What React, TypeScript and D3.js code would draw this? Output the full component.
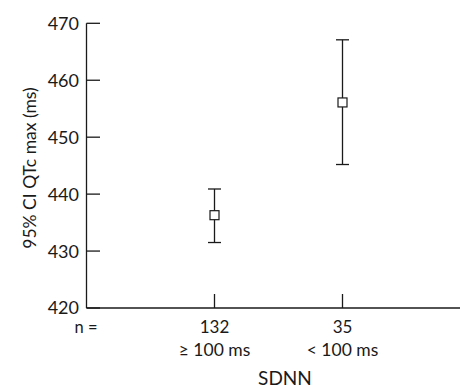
import * as d3 from "d3";

const groups = ["≥ 100 ms", "< 100 ms"];
const counts = [132, 35];
const means = [436.3, 456.1];
const lower = [431.5, 445.2];
const upper = [440.9, 467.1];
const yTicks = [420, 430, 440, 450, 460, 470];

const font = "Lato, 'Open Sans', sans-serif";
const ink = "#1a1a1a";

export default function App() {
  const width = 460;
  const height = 388;
  const x = d3.scaleLinear().domain([0, 3]).range([86.5, 470.5]);
  const y = d3.scaleLinear().domain([420, 470]).range([308, 23.3]);
  const axisX = x(0);
  const baseY = y(420);

  return (
    <svg width={width} height={height} style={{ position: "absolute", left: 0, top: 0, background: "#fff" }}>
      {/* y axis */}
      <line x1={axisX} x2={axisX} y1={y(470)} y2={baseY} stroke={ink} strokeWidth={1.3} />
      {yTicks.map((t) => (
        <g key={t}>
          <line x1={axisX} x2={axisX + 13.5} y1={y(t)} y2={y(t)} stroke={ink} strokeWidth={1.3} />
          <text x={axisX - 7.5} y={y(t)} dy="0.36em" textAnchor="end" fontSize={18} fontFamily={font} fill={ink}>{t}</text>
        </g>
      ))}
      <text transform={`translate(36, 168) rotate(-90)`} textAnchor="middle" fontSize={17.5} fontFamily={font} fill={ink}>95% CI QTc max (ms)</text>

      {/* x axis */}
      <line x1={axisX} x2={width} y1={baseY} y2={baseY} stroke={ink} strokeWidth={1.3} />
      {groups.map((g, i) => (
        <line key={g} x1={x(i + 1)} x2={x(i + 1)} y1={baseY} y2={baseY - 14} stroke={ink} strokeWidth={1.3} />
      ))}
      <text x={86} y={333} textAnchor="middle" fontSize={16.5} fontFamily={font} fill={ink}>n =</text>
      {groups.map((g, i) => (
        <g key={g}>
          <text x={x(i + 1)} y={333} textAnchor="middle" fontSize={17} fontFamily={font} fill={ink}>{counts[i]}</text>
          <text x={x(i + 1)} y={355.5} textAnchor="middle" fontSize={17.5} fontFamily={font} fill={ink}>{g}</text>
        </g>
      ))}
      <text x={285} y={385} textAnchor="middle" fontSize={19} fontFamily={font} fill={ink}>SDNN</text>

      {/* error bars */}
      {groups.map((g, i) => {
        const cx = x(i + 1);
        return (
          <g key={g}>
            <line x1={cx} x2={cx} y1={y(upper[i])} y2={y(lower[i])} stroke={ink} strokeWidth={1.3} />
            <line x1={cx - 6.5} x2={cx + 6.5} y1={y(upper[i])} y2={y(upper[i])} stroke={ink} strokeWidth={1.3} />
            <line x1={cx - 6.5} x2={cx + 6.5} y1={y(lower[i])} y2={y(lower[i])} stroke={ink} strokeWidth={1.3} />
            <rect x={cx - 4.5} y={y(means[i]) - 4.5} width={9} height={9} fill="#fff" stroke={ink} strokeWidth={1.2} />
          </g>
        );
      })}
    </svg>
  );
}
